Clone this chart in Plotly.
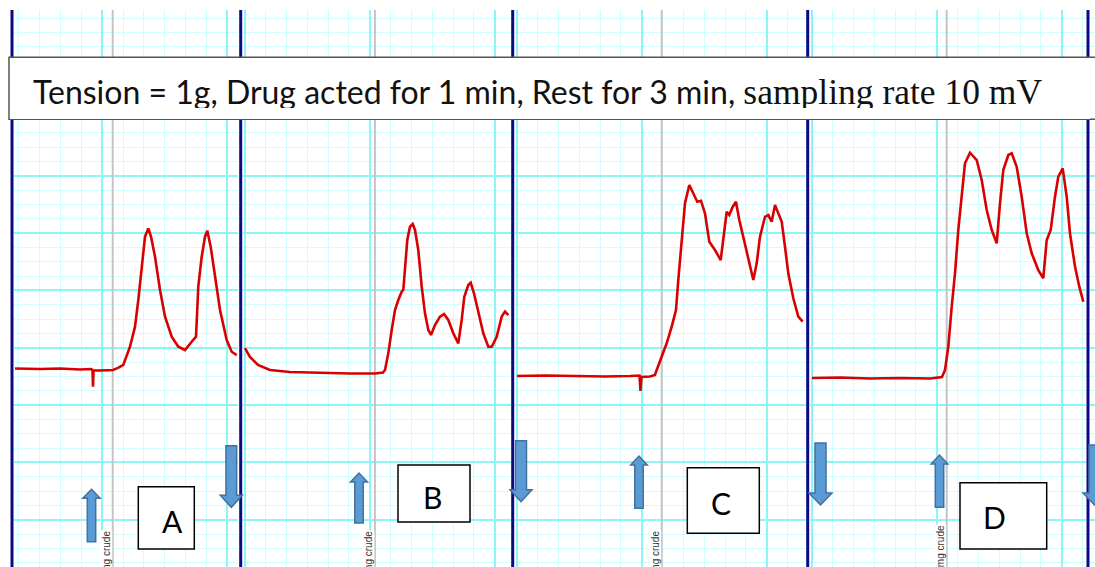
import plotly.graph_objects as go

W, H = 1095, 567

# ---------------- recorded contraction traces ----------------
# time in seconds (0 = first major division of each strip), amplitude in chart divisions
A_t = [-41.9, -29.9, -20.3, -10.7, -5.4, -4.7, -4.46, -4.22, -1.1, 5.14, 7.54, 10.08, 13.3, 15.7,
       17.28, 18.91, 20.5, 22.08, 23.38, 25.3, 27.7, 30.1, 33.31, 36.48, 39.7, 42.9, 44.98, 46.08,
       47.71, 49.3, 50.4, 52.03, 54.1, 56.5, 59.71, 62.11, 64.51]
A_v = [10.55, 10.52, 10.55, 10.48, 10.52, 10.45, 9.28, 10.41, 10.41, 10.45, 10.59, 10.80, 12.07, 13.47,
       15.33, 17.66, 19.75, 20.33, 19.75, 18.35, 16.03, 14.17, 12.77, 12.07, 11.84, 12.42, 12.77, 16.26,
       18.35, 19.75, 20.17, 19.05, 16.96, 14.63, 12.54, 11.72, 11.49]

B_t = [-59.86, -57.46, -53.6, -47.9, -38.3, -23.9, -9.5, 2.54, 6.38, 7.34, 8.93, 10.56, 12.14, 13.73,
       15.36, 16.13, 16.94, 18.05, 19.34, 20.64, 21.74, 23.33, 24.96, 26.54, 28.13, 29.42, 31.34, 33.74,
       35.66, 37.73, 40.13, 42.53, 44.16, 45.41, 47.33, 48.48, 50.06, 52.13, 54.53, 56.93, 58.56, 60.96,
       63.36, 64.94, 66.53]
B_v = [11.98, 11.35, 10.80, 10.45, 10.31, 10.24, 10.20, 10.20, 10.27, 10.45, 11.61, 13.24, 14.63, 15.33,
       15.91, 16.03, 17.66, 19.52, 20.45, 20.63, 20.22, 18.82, 16.26, 14.40, 13.24, 12.89, 13.59, 14.17,
       14.35, 13.94, 13.01, 12.31, 13.94, 15.56, 16.38, 16.54, 15.80, 14.40, 13.01, 12.07, 12.07, 12.77,
       14.17, 14.52, 14.28]

C_t = [-59.86, -46.42, -32.0, -17.6, -5.6, -1.06, -0.58, -0.1, 3.98, 6.38, 7.2, 9.6, 12.0, 14.4, 16.46,
       17.57, 19.2, 20.78, 22.85, 24.77, 26.69, 28.46, 30.38, 32.45, 35.18, 37.92, 39.5, 40.8, 42.05,
       43.68, 45.26, 46.85, 49.1, 51.17, 53.57, 55.2, 56.78, 59.18, 60.77, 62.4, 63.98, 65.57, 67.2,
       68.78, 70.37, 72.77, 75.17, 77.28]
C_v = [10.03, 10.06, 10.03, 9.99, 10.03, 10.06, 8.98, 9.96, 9.99, 10.10, 10.45, 11.37, 12.31, 13.47, 14.63,
       16.73, 19.52, 22.08, 23.36, 22.78, 22.19, 22.26, 21.38, 19.40, 18.82, 18.12, 20.22, 21.49, 21.26,
       21.84, 22.19, 20.91, 19.52, 18.12, 16.73, 17.89, 19.75, 21.14, 21.26, 20.80, 21.96, 21.38, 20.80,
       19.05, 17.19, 15.45, 14.17, 13.82]

D_t = [-59.86, -46.42, -32.0, -17.6, -3.2, 2.54, 3.98, 5.57, 7.2, 8.78, 10.37, 12.0, 13.58, 15.98, 19.2,
       21.6, 24.0, 26.4, 28.8, 30.38, 31.97, 34.37, 36.0, 38.4, 40.8, 43.2, 45.6, 48.77, 51.17, 52.8,
       54.72, 56.78, 58.37, 60.48, 62.4, 63.98, 66.38, 68.45, 70.37]
D_v = [9.89, 9.92, 9.85, 9.89, 9.85, 9.96, 10.45, 12.07, 14.86, 17.19, 20.22, 22.78, 24.87, 25.61, 25.10,
       23.71, 21.61, 20.22, 19.29, 22.08, 24.40, 25.45, 25.57, 24.63, 22.54, 19.99, 18.59, 17.42, 16.85,
       19.52, 20.22, 22.54, 23.94, 24.52, 22.54, 19.99, 17.66, 16.26, 15.21]

STRIPS_T = [A_t, B_t, C_t, D_t]
STRIPS_V = [A_v, B_v, C_v, D_v]
EVENT_T = [5.0, 2.5, 9.6, 4.8]            # drug addition marker on each strip (s)
PANEL_LABELS = ["A", "B", "C", "D"]
DOSE_LABELS = ["mg crude", "mg crude", "mg crude", "0mg crude"]
TITLE_SANS = "Tension = 1g, Drug acted for 1 min, Rest for 3 min,"
TITLE_SERIF = "sampling rate 10 mV"

# ---------------- layout geometry ----------------
SEC_PER_PX = 0.48          # 10 s per minor division
DIV_PX = 14.33             # one amplitude division
Y_ZERO_PX = 519.7
TOP_PX = 10

# strip pixel spans: left, right, pixel position of t = 0
STRIPS = [(14, 238, 102.3), (243, 511, 369.7), (515, 806, 641.7), (810, 1086, 936.7), (1090, 1095, 1150)]
BORDERS_PX = [12, 240.7, 512.7, 807.7, 1088]

def fx(px):
    return px / W

def fy(py):
    return 1 - py / H

GRID_MINOR = "#d0fdfd"
GRID_MAJOR = "#8cf6f6"
TRACE_RED = "#d80000"
ARROW_FILL = "#5b9bd5"
ARROW_LINE = "#41719c"

fig = go.Figure()
layout = dict(width=W, height=H, margin=dict(l=0, r=0, t=0, b=0),
              paper_bgcolor="white", plot_bgcolor="white", showlegend=False)

y_range = [(Y_ZERO_PX - H) / DIV_PX, (Y_ZERO_PX - TOP_PX) / DIV_PX]
for i, (l, r, p0) in enumerate(STRIPS, start=1):
    sfx = "" if i == 1 else str(i)
    layout["xaxis" + sfx] = dict(
        domain=[fx(l), fx(r)], range=[(l - p0) * SEC_PER_PX, (r - p0) * SEC_PER_PX],
        anchor="y" + sfx, showticklabels=False, ticks="", zeroline=False, showline=False,
        tick0=0, dtick=60, showgrid=True, gridcolor=GRID_MAJOR, gridwidth=1.8,
        minor=dict(dtick=10, showgrid=True, gridcolor=GRID_MINOR, gridwidth=1.2))
    layout["yaxis" + sfx] = dict(
        domain=[0, fy(TOP_PX)], range=y_range, anchor="x" + sfx,
        showticklabels=False, ticks="", zeroline=False, showline=False,
        tick0=0, dtick=4, showgrid=True, gridcolor=GRID_MAJOR, gridwidth=1.8,
        minor=dict(dtick=1, showgrid=True, gridcolor=GRID_MINOR, gridwidth=1.2))
    if i <= 4:
        t_ev = EVENT_T[i - 1]
        # drug addition marker, drawn beneath the recording
        fig.add_trace(go.Scatter(x=[t_ev, t_ev], y=y_range, mode="lines",
                                 line=dict(color="#c4c4c4", width=2),
                                 xaxis="x" + sfx, yaxis="y" + sfx, hoverinfo="skip"))
        fig.add_trace(go.Scatter(x=STRIPS_T[i - 1], y=STRIPS_V[i - 1], mode="lines",
                                 line=dict(color=TRACE_RED, width=2.6),
                                 xaxis="x" + sfx, yaxis="y" + sfx, hoverinfo="skip"))
    else:
        fig.add_trace(go.Scatter(x=[None], y=[None], xaxis="x" + sfx, yaxis="y" + sfx))

shapes = []
annotations = []

# dose labels beside the markers
for i, t in enumerate(EVENT_T, start=1):
    sfx = "" if i == 1 else str(i)
    annotations.append(dict(xref="x" + sfx, yref="paper", x=t, xshift=-7,
                            y=fy(530 if i < 4 else 524), yanchor="top", xanchor="center",
                            text=DOSE_LABELS[i - 1], textangle=-90, showarrow=False,
                            bgcolor="white", borderpad=0,
                            font=dict(family="Liberation Sans", size=10, color="#333333")))

# strip borders
for bx in BORDERS_PX:
    shapes.append(dict(type="line", xref="paper", yref="paper", x0=fx(bx), x1=fx(bx),
                       y0=0, y1=fy(TOP_PX), line=dict(color="#0a0a86", width=3), layer="above"))

# title box
shapes.append(dict(type="rect", xref="paper", yref="paper", x0=fx(9), x1=fx(1100),
                   y0=fy(119.3), y1=fy(57.3), fillcolor="white",
                   line=dict(color="#555555", width=1.5), layer="above"))


def block_arrow(xc, shaft_w, head_w, y_tail, y_tip, head_len):
    d = 1 if y_tail > y_tip else -1       # 1: pointing up
    yb = y_tip + d * head_len
    pts = [(xc - shaft_w / 2, y_tail), (xc - shaft_w / 2, yb), (xc - head_w / 2, yb), (xc, y_tip),
           (xc + head_w / 2, yb), (xc + shaft_w / 2, yb), (xc + shaft_w / 2, y_tail)]
    path = "M " + " L ".join(f"{fx(x):.5f},{fy(y):.5f}" for x, y in pts) + " Z"
    return dict(type="path", xref="paper", yref="paper", path=path, fillcolor=ARROW_FILL,
                line=dict(color=ARROW_LINE, width=1.5), layer="above")


ARROWS = [  # centre x, shaft width, head width, tail y, tip y, head length (px)
    (91.5, 8.4, 17.3, 541.7, 489.3, 9),
    (231.3, 10.7, 22, 445.7, 507.3, 12),
    (359, 8.4, 17, 523, 473, 9),
    (521, 11, 22, 440.7, 501.7, 12),
    (639, 8.4, 16.6, 508.3, 456, 9),
    (820.5, 11, 23, 443, 505, 12),
    (939.5, 8.4, 16.6, 507.3, 455, 9),
    (1094.5, 11, 23, 445, 505, 12),
]
for a in ARROWS:
    shapes.append(block_arrow(*a))

# panel letter boxes: box (x0, x1, y0, y1) and letter centre
LETTER_BOXES = [((138.3, 194.3, 486.7, 549), (172, 521)),
                ((398, 470, 465, 522), (432, 497)),
                ((687.3, 759.3, 467.7, 533.3), (721, 502.5)),
                ((960, 1046.7, 482.7, 549), (994.5, 517))]
for ((bx0, bx1, by0, by1), (cx, cy)), lab in zip(LETTER_BOXES, PANEL_LABELS):
    shapes.append(dict(type="rect", xref="paper", yref="paper", x0=fx(bx0), x1=fx(bx1),
                       y0=fy(by1), y1=fy(by0), fillcolor="white",
                       line=dict(color="black", width=1.5), layer="above"))
    annotations.append(dict(xref="paper", yref="paper", x=fx(cx), y=fy(cy), text=lab,
                            showarrow=False, xanchor="center", yanchor="middle",
                            font=dict(family="Lato", size=30, color="black")))

# title text: sans part followed by a serif part on the same line
title_html = (TITLE_SANS + " <span style=\"font-family:Liberation Serif;font-size:35.5px\">"
              + TITLE_SERIF + "</span>")
annotations.append(dict(xref="paper", yref="paper", x=fx(31), y=fy(92.5), text=title_html,
                        showarrow=False, xanchor="left", yanchor="middle",
                        font=dict(family="Lato", size=32, color="#111111")))
# lower band of the title box (text is cut along this edge)
annotations.append(dict(xref="paper", yref="paper", x=fx(10), y=fy(107.5), text=" ",
                        showarrow=False, xanchor="left", yanchor="top", width=1080, height=10.5,
                        bgcolor="white", borderpad=0, borderwidth=0))

layout["shapes"] = shapes
layout["annotations"] = annotations
fig.update_layout(**layout)
fig.write_html("out.html")
